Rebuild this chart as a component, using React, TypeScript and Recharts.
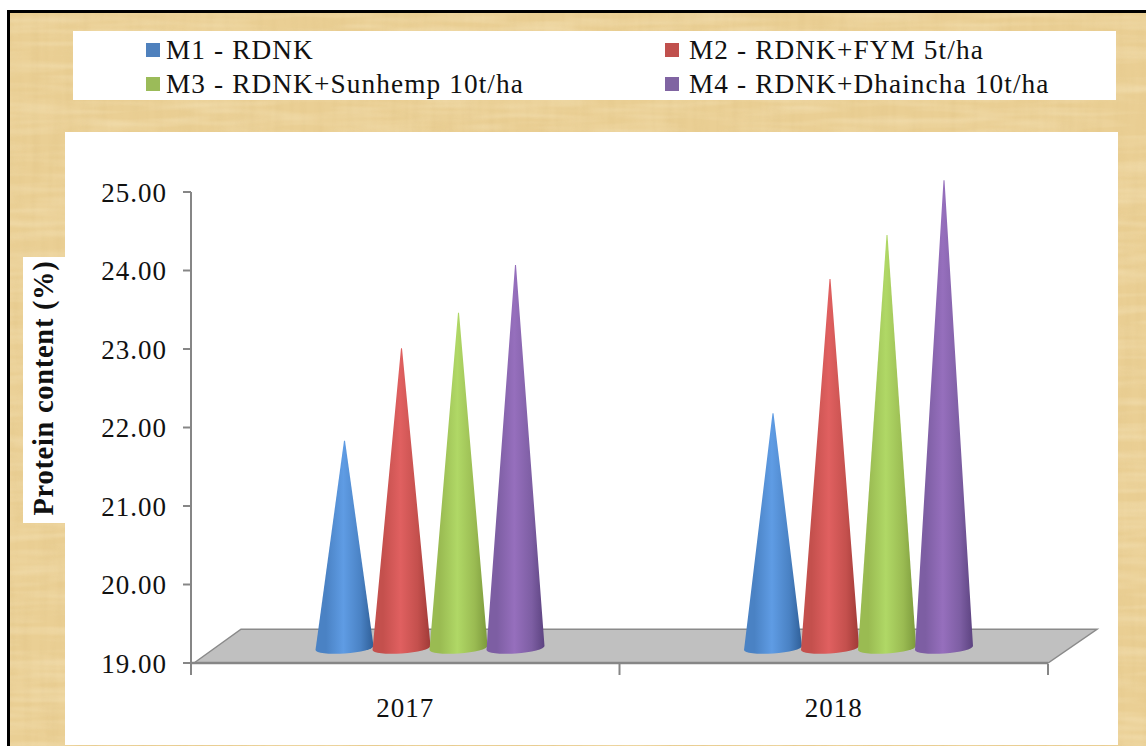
import React from "react";
import { BarChart, Bar, XAxis, YAxis, Legend, ReferenceArea } from "recharts";

const categories = ["2017", "2018"];
const m1 = [21.64, 21.99];
const m2 = [22.82, 23.7];
const m3 = [23.27, 24.26];
const m4 = [23.88, 24.96];
const yTicks = [19, 20, 21, 22, 23, 24, 25];
const seriesNames = ["M1 - RDNK", "M2 - RDNK+FYM 5t/ha", "M3 - RDNK+Sunhemp 10t/ha", "M4 - RDNK+Dhaincha 10t/ha"];
const seriesDark = ["#2f5f98", "#a03a37", "#7c9a3c", "#5c4380"];
const seriesMid = ["#4a82c4", "#c4504d", "#9abb52", "#7d5ea3"];
const seriesLight = ["#5f9ce4", "#e06060", "#b0d866", "#966fbd"];
const legendColors = ["#4f81bd", "#c0504d", "#9bbb59", "#8064a2"];

const rows = categories.map((c, i) => ({ category: c, m1: m1[i], m2: m2[i], m3: m3[i], m4: m4[i] }));
const keys = ["m1", "m2", "m3", "m4"];
const FONT = "'Liberation Serif', 'Times New Roman', serif";
const DX = 25;
const DY = 15;
const BAND = 428.5;

const Cone = (props: any) => {
  const { x, y, width, height, idx } = props;
  const r = width / 2 + 0.5;
  const cx = x + width / 2 + DX - 1;
  const base = y + height - DY;
  const apex = y - DY;
  const d = `M${cx - r},${base + 2} A${r},5.5 -4 0 0 ${cx + r},${base - 2} L${cx + 0.5},${apex} L${cx - 0.5},${apex} Z`;
  return <path d={d} fill={`url(#cone${idx})`} />;
};

const Floor = (props: any) => {
  const { x, y, width, height } = props;
  const b = y + height;
  return (
    <path
      d={`M${x + 3},${b} L${x + 50},${y} L${x + width + 49},${y} L${x + width},${b} Z`}
      fill="#c0c0c0"
      stroke="#8a8a8a"
      strokeWidth={1.5}
    />
  );
};

const XTick = (props: any) => {
  const { x, y, payload, index } = props;
  const axisY = y - 7;
  return (
    <g>
      {index === 0 && <line x1={x - BAND / 2} x2={x - BAND / 2} y1={axisY} y2={axisY + 11} stroke="#868686" strokeWidth={2} />}
      <line x1={x + BAND / 2} x2={x + BAND / 2} y1={axisY} y2={axisY + 11} stroke="#868686" strokeWidth={2} />
      <text x={x} y={y + 46} textAnchor="middle" fontFamily={FONT} fontSize={27} letterSpacing={1} fill="#111">
        {payload.value}
      </text>
    </g>
  );
};

const YLabel = () => (
  <g>
    <rect x={23} y={257} width={42} height={266} fill="#fff" />
    <text
      x={0}
      y={0}
      transform="translate(53,388) rotate(-90)"
      textAnchor="middle"
      fontFamily={FONT}
      fontWeight="bold"
      fontSize={28.5}
      letterSpacing={0.7}
      fill="#111"
    >
      Protein content (%)
    </text>
  </g>
);

const LegendBox = ({ payload }: any) => (
  <div style={{ position: "relative", width: 1043, height: 69, background: "#fff", fontFamily: FONT, fontSize: 27.3, letterSpacing: 1.1, color: "#111" }}>
    {(payload || []).map((p: any, i: number) => {
      const left = i % 2 === 0 ? 73 : 592;
      const top = i < 2 ? 5 : 39;
      return (
        <div key={p.value} style={{ position: "absolute", left, top, whiteSpace: "nowrap", lineHeight: "28px" }}>
          <span style={{ position: "absolute", left: 0, top: 7, width: 14, height: 14, background: legendColors[i] }} />
          <span style={{ position: "absolute", left: i % 2 === 0 ? 20 : 24, top: 0 }}>{p.value}</span>
        </div>
      );
    })}
  </div>
);

const Paper = () => (
  <svg width={1139} height={736} style={{ position: "absolute", left: 7, top: 10 }}>
    <defs>
      <filter id="fibreV" x="0" y="0" width="100%" height="100%">
        <feTurbulence type="fractalNoise" baseFrequency="0.12 0.012" numOctaves={2} seed={4} />
        <feColorMatrix type="matrix" values="0 0 0 0 0.72  0 0 0 0 0.52  0 0 0 0 0.22  1.2 0 0 0 -0.45" />
      </filter>
      <filter id="fibreH" x="0" y="0" width="100%" height="100%">
        <feTurbulence type="fractalNoise" baseFrequency="0.012 0.12" numOctaves={2} seed={9} />
        <feColorMatrix type="matrix" values="0 0 0 0 1  0 0 0 0 0.93  0 0 0 0 0.72  1.2 0 0 0 -0.45" />
      </filter>
    </defs>
    <rect width={1139} height={736} fill="#eacf94" />
    <rect width={1139} height={736} filter="url(#fibreV)" opacity={0.4} />
    <rect width={1139} height={736} filter="url(#fibreH)" opacity={0.45} />
    <path d="M1.5,736 V1.5 H1139" fill="none" stroke="#000" strokeWidth={3} />
  </svg>
);

export default function App() {
  return (
    <div style={{ position: "absolute", left: 0, top: 0, width: 1146, height: 746, overflow: "hidden", background: "#fff" }}>
      <Paper />
      <div style={{ position: "absolute", left: 65, top: 132, width: 1053, height: 613, background: "#fff" }} />
      <div style={{ position: "absolute", left: 0, top: 0 }}>
        <BarChart
          width={1146}
          height={746}
          data={rows}
          margin={{ top: 192, right: 98, bottom: 20, left: 0 }}
          barCategoryGap={101}
          barGap={0}
        >
          <defs>
            {seriesDark.map((c, i) => (
              <linearGradient key={c} id={`cone${i}`} x1="0" y1="0" x2="1" y2="0">
                <stop offset="0%" stopColor={seriesMid[i]} />
                <stop offset="18%" stopColor={seriesMid[i]} />
                <stop offset="48%" stopColor={seriesLight[i]} />
                <stop offset="78%" stopColor={seriesMid[i]} />
                <stop offset="100%" stopColor={seriesDark[i]} />
              </linearGradient>
            ))}
          </defs>
          <ReferenceArea y1={19} y2={19.43} shape={<Floor />} ifOverflow="visible" />
          <XAxis
            dataKey="category"
            height={63}
            axisLine={{ stroke: "#868686", strokeWidth: 2.5 }}
            tickLine={false}
            tick={<XTick />}
            interval={0}
          />
          <YAxis
            width={191}
            domain={[19, 25]}
            ticks={yTicks}
            interval={0}
            axisLine={{ stroke: "#868686", strokeWidth: 2 }}
            tickLine={{ stroke: "#868686", strokeWidth: 2 }}
            tickSize={8}
            tickMargin={16}
            tickFormatter={(v: number) => v.toFixed(2)}
            tick={{ fontFamily: FONT, fontSize: 27, fill: "#111", letterSpacing: 1 }}
            label={{ content: <YLabel /> }}
          />
          <Legend
            layout="horizontal"
            verticalAlign="middle"
            align="center"
            content={<LegendBox />}
            wrapperStyle={{ left: 73, top: 31, width: 1043, height: 69 }}
          />
          {keys.map((k, i) => (
            <Bar
              key={k}
              dataKey={k}
              name={seriesNames[i]}
              fill={legendColors[i]}
              isAnimationActive={false}
              shape={(p: any) => <Cone {...p} idx={i} />}
            />
          ))}
        </BarChart>
      </div>
    </div>
  );
}
